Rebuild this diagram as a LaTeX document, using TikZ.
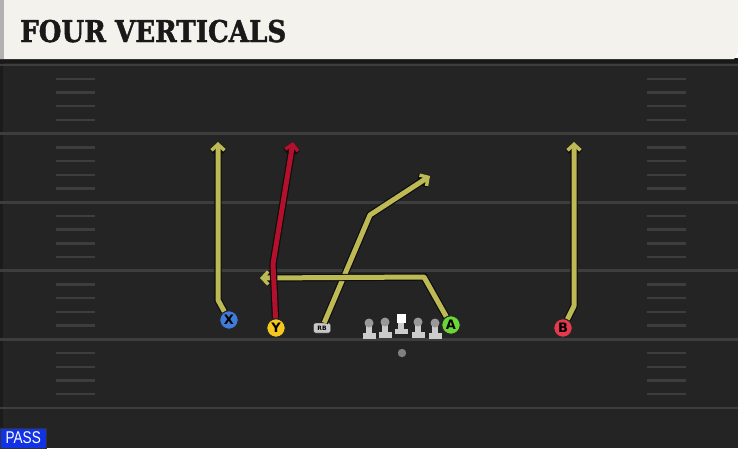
\documentclass[tikz,border=0pt]{standalone}
\usepackage{fontspec}
\setmainfont{DejaVu Sans}
\newfontfamily\titlefont[BoldFeatures={FakeBold=1.5}]{DejaVu Serif}
\newfontfamily\passfont{Liberation Sans}
\usepackage{xcolor}
\usetikzlibrary{arrows.meta}
\definecolor{field}{HTML}{242424}
\definecolor{yardline}{HTML}{3D3D3D}
\definecolor{header}{HTML}{F4F2EC}
\definecolor{routeyellow}{HTML}{BDB955}
\definecolor{routered}{HTML}{B3102E}
\definecolor{xblue}{HTML}{3F7BD9}
\definecolor{ygold}{HTML}{F5C81E}
\definecolor{agreen}{HTML}{6BD63A}
\definecolor{bred}{HTML}{E63A4C}
\definecolor{passblue}{HTML}{1232E6}

\begin{document}
\begin{tikzpicture}[x=1pt,y=-1pt,
  player/.style={circle,draw=black!85,line width=1pt,minimum size=18.5pt,inner sep=0pt,
    font=\bfseries\fontsize{13}{13}\selectfont},
  route/.style={line width=5pt,line join=round,draw=#1,
    -{Straight Barb[length=6pt,width=13pt,line width=3.4pt]},
    preaction={draw=black!95,line width=7.4pt,-{Straight Barb[length=6pt,width=13pt,line width=5.6pt]}}},
  route/.default=routeyellow]
  \useasboundingbox (0,0) rectangle (738,448);
  % field
  \fill[field] (0,59) rectangle (738,448);
  \fill[black!25!field] (0,63) rectangle (3,448);
  \foreach \k in {0,...,5}
    \draw[yardline,line width=2.8pt] (0,65+68.6*\k) -- (738,65+68.6*\k);
  \foreach \k in {0,...,4}
    \foreach \j in {1,...,4} {
      \draw[yardline,line width=2.4pt] (56,65+68.6*\k+13.72*\j) -- (95,65+68.6*\k+13.72*\j);
      \draw[yardline,line width=2.4pt] (647,65+68.6*\k+13.72*\j) -- (686,65+68.6*\k+13.72*\j);
    }
  % header
  \fill[black!90] (0,58) rectangle (738,63);
  \fill[header] (0,0) -- (738,0) -- (738,52) -- (734,59) -- (0,59) -- cycle;
  \fill[black!30] (0,0) rectangle (4,59);
  \node[anchor=base west,inner sep=0pt,font=\titlefont\bfseries\fontsize{30}{30}\selectfont,
    text=black!90] (title) at (20,42) {\scalebox{0.87}[1]{FOUR VERTICALS}};
  % line
  \foreach \lx/\hy in {369/323,385/322,418/322,435/323} {
    \fill[black!20] (\lx-3,\hy) rectangle (\lx+3,\hy+11);
    \fill[black!20] (\lx-6.5,\hy+10) rectangle (\lx+6.5,\hy+15.5);
    \fill[black!40] (\lx,\hy) circle (4.5);
  }
  \fill[black!20] (398,320) rectangle (404,330);
  \fill[black!20] (395,329) rectangle (408,334);
  \fill[white] (396.5,313.5) rectangle (405.5,322.5);
  \fill[black!50] (402,353) circle (4.2);
  % skill players
  \node[player,fill=xblue] (X) at (229,320) {X};
  \node[player,fill=ygold] (Y) at (276,328) {Y};
  \node[player,fill=agreen] (A) at (451,325) {A};
  \node[player,fill=bred] (B) at (563,328) {B};
  \node[draw=black!85,fill=black!22,rounded corners=2pt,minimum width=17pt,minimum height=10pt,
    inner sep=0pt,font=\bfseries\fontsize{6}{6}\selectfont] (RB) at (322,328) {RB};
  % routes
  \coordinate (x1) at (218,300);
  \coordinate (x2) at (218,142);
  \coordinate (y1) at (273,264);
  \coordinate (y2) at (293,142);
  \coordinate (r1) at (370,215);
  \coordinate (r2) at (430,176);
  \coordinate (a1) at (424,277);
  \coordinate (a2) at (260,278);
  \coordinate (b1) at (574,306);
  \coordinate (b2) at (574,142);
  \draw[route] (X) -- (x1) -- (x2);
  \draw[route] (RB) -- (r1) -- (r2);
  \draw[route] (A) -- (a1) -- (a2);
  \draw[route] (B) -- (b1) -- (b2);
  \draw[route=routered] (Y) -- (y1) -- (y2);
  % play type
  \node[draw=black!80,fill=passblue,text=white,anchor=south west,minimum width=46pt,minimum height=20pt,
    inner sep=0pt,font=\passfont\fontsize{17}{17}\selectfont] (pass) at (0,448) {\scalebox{0.8}[1]{PASS}};
\end{tikzpicture}
\end{document}
